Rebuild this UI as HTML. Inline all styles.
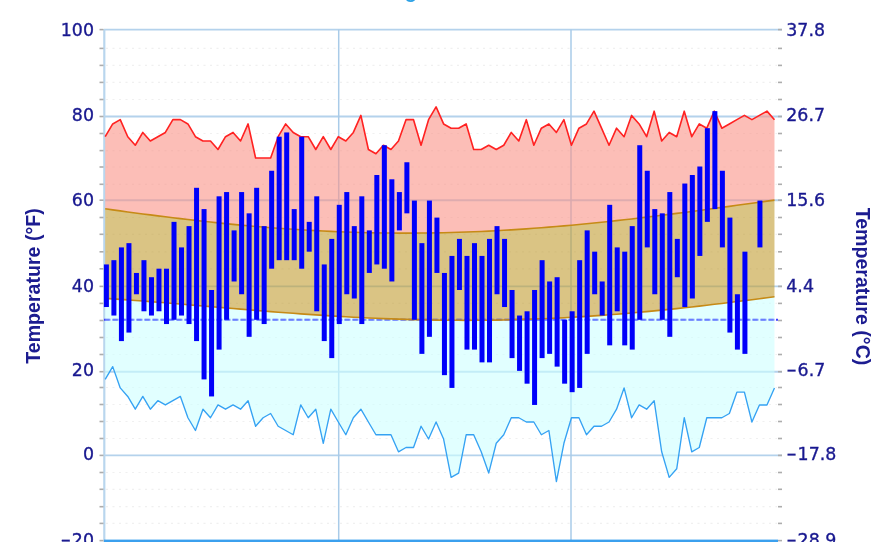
<!DOCTYPE html>
<html><head><meta charset="utf-8"><title>Temperature chart</title>
<style>
html,body{margin:0;padding:0;background:#fff;}
body{width:880px;height:542px;overflow:hidden;}
svg{display:block;}
.t{font-family:"DejaVu Sans","Liberation Sans",sans-serif;font-size:17.4px;fill:#1a1a90;stroke:#1a1a90;stroke-width:0.35px;}
.a{font-family:"Liberation Sans","DejaVu Sans",sans-serif;font-size:19.6px;font-weight:bold;fill:#1a1a90;}
</style></head><body>
<svg width="880" height="542" viewBox="0 0 880 542">
<defs><filter id="soft" filterUnits="userSpaceOnUse" x="-20" y="-20" width="920" height="582"><feGaussianBlur stdDeviation="0.55"/></filter></defs>
<g filter="url(#soft)">
<rect x="-20" y="-20" width="920" height="582" fill="#fff"/>
<text x="404.8" y="-1.9" font-family="'Liberation Sans', sans-serif" font-weight="bold" font-size="20" fill="#2ea2e6">g</text>
<line x1="106" x2="777" y1="48.4" y2="48.4" stroke="#f0f0f0" stroke-width="1.2" stroke-dasharray="2 4.5"/>
<line x1="106" x2="777" y1="65.4" y2="65.4" stroke="#f0f0f0" stroke-width="1.2" stroke-dasharray="2 4.5"/>
<line x1="106" x2="777" y1="82.4" y2="82.4" stroke="#f0f0f0" stroke-width="1.2" stroke-dasharray="2 4.5"/>
<line x1="106" x2="777" y1="99.5" y2="99.5" stroke="#f0f0f0" stroke-width="1.2" stroke-dasharray="2 4.5"/>
<line x1="106" x2="777" y1="133.5" y2="133.5" stroke="#f0f0f0" stroke-width="1.2" stroke-dasharray="2 4.5"/>
<line x1="106" x2="777" y1="150.6" y2="150.6" stroke="#f0f0f0" stroke-width="1.2" stroke-dasharray="2 4.5"/>
<line x1="106" x2="777" y1="167" y2="167" stroke="#f0f0f0" stroke-width="1.2" stroke-dasharray="2 4.5"/>
<line x1="106" x2="777" y1="184.3" y2="184.3" stroke="#f0f0f0" stroke-width="1.2" stroke-dasharray="2 4.5"/>
<line x1="106" x2="777" y1="217.5" y2="217.5" stroke="#f0f0f0" stroke-width="1.2" stroke-dasharray="2 4.5"/>
<line x1="106" x2="777" y1="234.3" y2="234.3" stroke="#f0f0f0" stroke-width="1.2" stroke-dasharray="2 4.5"/>
<line x1="106" x2="777" y1="251.8" y2="251.8" stroke="#f0f0f0" stroke-width="1.2" stroke-dasharray="2 4.5"/>
<line x1="106" x2="777" y1="268.8" y2="268.8" stroke="#f0f0f0" stroke-width="1.2" stroke-dasharray="2 4.5"/>
<line x1="106" x2="777" y1="303.4" y2="303.4" stroke="#f0f0f0" stroke-width="1.2" stroke-dasharray="2 4.5"/>
<line x1="106" x2="777" y1="320.5" y2="320.5" stroke="#f0f0f0" stroke-width="1.2" stroke-dasharray="2 4.5"/>
<line x1="106" x2="777" y1="337.5" y2="337.5" stroke="#f0f0f0" stroke-width="1.2" stroke-dasharray="2 4.5"/>
<line x1="106" x2="777" y1="354.5" y2="354.5" stroke="#f0f0f0" stroke-width="1.2" stroke-dasharray="2 4.5"/>
<line x1="106" x2="777" y1="387.5" y2="387.5" stroke="#f0f0f0" stroke-width="1.2" stroke-dasharray="2 4.5"/>
<line x1="106" x2="777" y1="404.5" y2="404.5" stroke="#f0f0f0" stroke-width="1.2" stroke-dasharray="2 4.5"/>
<line x1="106" x2="777" y1="421.5" y2="421.5" stroke="#f0f0f0" stroke-width="1.2" stroke-dasharray="2 4.5"/>
<line x1="106" x2="777" y1="438.5" y2="438.5" stroke="#f0f0f0" stroke-width="1.2" stroke-dasharray="2 4.5"/>
<line x1="106" x2="777" y1="472.5" y2="472.5" stroke="#f0f0f0" stroke-width="1.2" stroke-dasharray="2 4.5"/>
<line x1="106" x2="777" y1="489.3" y2="489.3" stroke="#f0f0f0" stroke-width="1.2" stroke-dasharray="2 4.5"/>
<line x1="106" x2="777" y1="506.7" y2="506.7" stroke="#f0f0f0" stroke-width="1.2" stroke-dasharray="2 4.5"/>
<line x1="106" x2="777" y1="523.4" y2="523.4" stroke="#f0f0f0" stroke-width="1.2" stroke-dasharray="2 4.5"/>
<line x1="104" x2="782" y1="29.6" y2="29.6" stroke="#b4d2ec" stroke-width="1.9"/>
<line x1="104" x2="782" y1="116.5" y2="116.5" stroke="#b4d2ec" stroke-width="1.9"/>
<line x1="104" x2="782" y1="200.2" y2="200.2" stroke="#b4d2ec" stroke-width="1.9"/>
<line x1="104" x2="782" y1="286.4" y2="286.4" stroke="#b4d2ec" stroke-width="1.9"/>
<line x1="104" x2="782" y1="371.7" y2="371.7" stroke="#b4d2ec" stroke-width="1.9"/>
<line x1="104" x2="782" y1="455.4" y2="455.4" stroke="#b4d2ec" stroke-width="1.9"/>
<line x1="338.7" x2="338.7" y1="29.6" y2="560" stroke="#a9cbe8" stroke-width="1.5"/>
<line x1="571" x2="571" y1="29.6" y2="560" stroke="#a9cbe8" stroke-width="1.5"/>
<line x1="104.3" x2="104.3" y1="29" y2="560" stroke="#b9d6ee" stroke-width="2.2"/>
<line x1="104" x2="778" y1="319.8" y2="319.8" stroke="#3c3cff" stroke-width="2" stroke-dasharray="5.5 2.5"/>
<polygon points="105.2,136.7 112.72,123.93 120.24,119.67 127.76,136.7 135.28,145.22 142.8,132.44 150.32,140.96 157.84,136.7 165.36,132.44 172.88,119.67 180.4,119.67 187.92,123.93 195.44,136.7 202.96,140.96 210.48,140.96 218,149.47 225.52,136.7 233.04,132.44 240.56,140.96 248.08,123.93 255.6,157.99 263.12,157.99 270.64,157.99 278.16,136.7 285.68,123.93 293.2,132.44 300.72,136.7 308.24,136.7 315.76,149.47 323.28,136.7 330.8,149.47 338.32,136.7 345.84,140.96 353.36,132.44 360.88,115.41 368.4,149.47 375.92,153.73 383.44,145.22 390.96,149.47 398.48,140.96 406,119.67 413.52,119.67 421.04,145.22 428.56,119.67 436.08,106.89 443.6,123.93 451.12,128.18 458.64,128.18 466.16,123.93 473.68,149.47 481.2,149.47 488.72,145.22 496.24,149.47 503.76,145.22 511.28,132.44 518.8,140.96 526.32,119.67 533.84,145.22 541.36,128.18 548.88,123.93 556.4,132.44 563.92,119.67 571.44,145.22 578.96,128.18 586.48,123.93 594,111.15 601.52,128.18 609.04,145.22 616.56,128.18 624.08,136.7 631.6,115.41 639.12,123.93 646.64,136.7 654.16,111.15 661.68,140.96 669.2,132.44 676.72,136.7 684.24,111.15 691.76,136.7 699.28,123.93 706.8,128.18 714.32,111.15 721.84,128.18 729.36,123.93 736.88,119.67 744.4,115.41 751.92,119.67 759.44,115.41 766.96,111.15 774.48,119.67 774.48,200.13 766.96,201.16 759.44,202.2 751.92,203.24 744.4,204.28 736.88,205.31 729.36,206.35 721.84,207.38 714.32,208.4 706.8,209.42 699.28,210.43 691.76,211.43 684.24,212.42 676.72,213.39 669.2,214.36 661.68,215.31 654.16,216.24 646.64,217.16 639.12,218.06 631.6,218.94 624.08,219.8 616.56,220.64 609.04,221.46 601.52,222.26 594,223.04 586.48,223.79 578.96,224.52 571.44,225.22 563.92,225.9 556.4,226.54 548.88,227.17 541.36,227.76 533.84,228.32 526.32,228.86 518.8,229.37 511.28,229.84 503.76,230.29 496.24,230.7 488.72,231.08 481.2,231.43 473.68,231.75 466.16,232.04 458.64,232.29 451.12,232.51 443.6,232.69 436.08,232.85 428.56,232.96 421.04,233.05 413.52,233.1 406,233.11 398.48,233.1 390.96,233.04 383.44,232.96 375.92,232.84 368.4,232.68 360.88,232.5 353.36,232.27 345.84,232.02 338.32,231.73 330.8,231.41 323.28,231.05 315.76,230.67 308.24,230.25 300.72,229.79 293.2,229.31 285.68,228.8 278.16,228.25 270.64,227.68 263.12,227.07 255.6,226.44 248.08,225.78 240.56,225.09 233.04,224.37 225.52,223.63 218,222.86 210.48,222.07 202.96,221.25 195.44,220.41 187.92,219.54 180.4,218.66 172.88,217.75 165.36,216.82 157.84,215.88 150.32,214.91 142.8,213.93 135.28,212.93 127.76,211.92 120.24,210.9 112.72,209.86 105.2,208.81" fill="rgb(250,147,135)" fill-opacity="0.6"/>
<polygon points="105.2,208.81 112.72,209.86 120.24,210.9 127.76,211.92 135.28,212.93 142.8,213.93 150.32,214.91 157.84,215.88 165.36,216.82 172.88,217.75 180.4,218.66 187.92,219.54 195.44,220.41 202.96,221.25 210.48,222.07 218,222.86 225.52,223.63 233.04,224.37 240.56,225.09 248.08,225.78 255.6,226.44 263.12,227.07 270.64,227.68 278.16,228.25 285.68,228.8 293.2,229.31 300.72,229.79 308.24,230.25 315.76,230.67 323.28,231.05 330.8,231.41 338.32,231.73 345.84,232.02 353.36,232.27 360.88,232.5 368.4,232.68 375.92,232.84 383.44,232.96 390.96,233.04 398.48,233.1 406,233.11 413.52,233.1 421.04,233.05 428.56,232.96 436.08,232.85 443.6,232.69 451.12,232.51 458.64,232.29 466.16,232.04 473.68,231.75 481.2,231.43 488.72,231.08 496.24,230.7 503.76,230.29 511.28,229.84 518.8,229.37 526.32,228.86 533.84,228.32 541.36,227.76 548.88,227.17 556.4,226.54 563.92,225.9 571.44,225.22 578.96,224.52 586.48,223.79 594,223.04 601.52,222.26 609.04,221.46 616.56,220.64 624.08,219.8 631.6,218.94 639.12,218.06 646.64,217.16 654.16,216.24 661.68,215.31 669.2,214.36 676.72,213.39 684.24,212.42 691.76,211.43 699.28,210.43 706.8,209.42 714.32,208.4 721.84,207.38 729.36,206.35 736.88,205.31 744.4,204.28 751.92,203.24 759.44,202.2 766.96,201.16 774.48,200.13 774.48,296.72 766.96,297.71 759.44,298.69 751.92,299.67 744.4,300.63 736.88,301.58 729.36,302.51 721.84,303.43 714.32,304.33 706.8,305.22 699.28,306.09 691.76,306.94 684.24,307.77 676.72,308.58 669.2,309.36 661.68,310.13 654.16,310.87 646.64,311.59 639.12,312.28 631.6,312.95 624.08,313.59 616.56,314.2 609.04,314.79 601.52,315.35 594,315.88 586.48,316.38 578.96,316.86 571.44,317.3 563.92,317.72 556.4,318.1 548.88,318.46 541.36,318.78 533.84,319.07 526.32,319.34 518.8,319.57 511.28,319.77 503.76,319.94 496.24,320.08 488.72,320.19 481.2,320.27 473.68,320.32 466.16,320.33 458.64,320.32 451.12,320.28 443.6,320.2 436.08,320.1 428.56,319.97 421.04,319.81 413.52,319.62 406,319.41 398.48,319.17 390.96,318.9 383.44,318.6 375.92,318.28 368.4,317.94 360.88,317.57 353.36,317.18 345.84,316.77 338.32,316.33 330.8,315.87 323.28,315.4 315.76,314.9 308.24,314.39 300.72,313.86 293.2,313.31 285.68,312.75 278.16,312.18 270.64,311.59 263.12,311 255.6,310.39 248.08,309.77 240.56,309.15 233.04,308.52 225.52,307.88 218,307.25 210.48,306.61 202.96,305.97 195.44,305.33 187.92,304.69 180.4,304.06 172.88,303.44 165.36,302.82 157.84,302.21 150.32,301.62 142.8,301.03 135.28,300.47 127.76,299.92 120.24,299.38 112.72,298.87 105.2,298.39" fill="rgb(194,156,50)" fill-opacity="0.6"/>
<polygon points="105.2,298.39 112.72,298.87 120.24,299.38 127.76,299.92 135.28,300.47 142.8,301.03 150.32,301.62 157.84,302.21 165.36,302.82 172.88,303.44 180.4,304.06 187.92,304.69 195.44,305.33 202.96,305.97 210.48,306.61 218,307.25 225.52,307.88 233.04,308.52 240.56,309.15 248.08,309.77 255.6,310.39 263.12,311 270.64,311.59 278.16,312.18 285.68,312.75 293.2,313.31 300.72,313.86 308.24,314.39 315.76,314.9 323.28,315.4 330.8,315.87 338.32,316.33 345.84,316.77 353.36,317.18 360.88,317.57 368.4,317.94 375.92,318.28 383.44,318.6 390.96,318.9 398.48,319.17 406,319.41 413.52,319.62 421.04,319.81 428.56,319.97 436.08,320.1 443.6,320.2 451.12,320.28 458.64,320.32 466.16,320.33 473.68,320.32 481.2,320.27 488.72,320.19 496.24,320.08 503.76,319.94 511.28,319.77 518.8,319.57 526.32,319.34 533.84,319.07 541.36,318.78 548.88,318.46 556.4,318.1 563.92,317.72 571.44,317.3 578.96,316.86 586.48,316.38 594,315.88 601.52,315.35 609.04,314.79 616.56,314.2 624.08,313.59 631.6,312.95 639.12,312.28 646.64,311.59 654.16,310.87 661.68,310.13 669.2,309.36 676.72,308.58 684.24,307.77 691.76,306.94 699.28,306.09 706.8,305.22 714.32,304.33 721.84,303.43 729.36,302.51 736.88,301.58 744.4,300.63 751.92,299.67 759.44,298.69 766.96,297.71 774.48,296.72 774.48,387.92 766.96,404.95 759.44,404.95 751.92,421.99 744.4,392.18 736.88,392.18 729.36,413.47 721.84,417.73 714.32,417.73 706.8,417.73 699.28,447.53 691.76,451.79 684.24,417.73 676.72,468.82 669.2,477.34 661.68,451.79 654.16,400.7 646.64,409.21 639.12,404.95 631.6,417.73 624.08,387.92 616.56,409.21 609.04,421.99 601.52,426.24 594,426.24 586.48,434.76 578.96,417.73 571.44,417.73 563.92,443.28 556.4,481.6 548.88,430.5 541.36,434.76 533.84,421.99 526.32,421.99 518.8,417.73 511.28,417.73 503.76,434.76 496.24,443.28 488.72,473.08 481.2,451.79 473.68,434.76 466.16,434.76 458.64,473.08 451.12,477.34 443.6,439.02 436.08,421.99 428.56,439.02 421.04,426.24 413.52,447.53 406,447.53 398.48,451.79 390.96,434.76 383.44,434.76 375.92,434.76 368.4,421.99 360.88,409.21 353.36,417.73 345.84,434.76 338.32,421.99 330.8,409.21 323.28,443.28 315.76,409.21 308.24,417.73 300.72,404.95 293.2,434.76 285.68,430.5 278.16,426.24 270.64,413.47 263.12,417.73 255.6,426.24 248.08,400.7 240.56,409.21 233.04,404.95 225.52,409.21 218,404.95 210.48,417.73 202.96,409.21 195.44,430.5 187.92,417.73 180.4,396.44 172.88,400.7 165.36,404.95 157.84,400.7 150.32,409.21 142.8,396.44 135.28,409.21 127.76,396.44 120.24,387.92 112.72,366.63 105.2,379.41" fill="rgb(205,255,255)" fill-opacity="0.6"/>
<line x1="105" x2="775" y1="319.8" y2="319.8" stroke="#4f5cff" stroke-opacity="0.6" stroke-width="2" stroke-dasharray="5.5 2.5"/>
<polyline points="105.2,208.81 112.72,209.86 120.24,210.9 127.76,211.92 135.28,212.93 142.8,213.93 150.32,214.91 157.84,215.88 165.36,216.82 172.88,217.75 180.4,218.66 187.92,219.54 195.44,220.41 202.96,221.25 210.48,222.07 218,222.86 225.52,223.63 233.04,224.37 240.56,225.09 248.08,225.78 255.6,226.44 263.12,227.07 270.64,227.68 278.16,228.25 285.68,228.8 293.2,229.31 300.72,229.79 308.24,230.25 315.76,230.67 323.28,231.05 330.8,231.41 338.32,231.73 345.84,232.02 353.36,232.27 360.88,232.5 368.4,232.68 375.92,232.84 383.44,232.96 390.96,233.04 398.48,233.1 406,233.11 413.52,233.1 421.04,233.05 428.56,232.96 436.08,232.85 443.6,232.69 451.12,232.51 458.64,232.29 466.16,232.04 473.68,231.75 481.2,231.43 488.72,231.08 496.24,230.7 503.76,230.29 511.28,229.84 518.8,229.37 526.32,228.86 533.84,228.32 541.36,227.76 548.88,227.17 556.4,226.54 563.92,225.9 571.44,225.22 578.96,224.52 586.48,223.79 594,223.04 601.52,222.26 609.04,221.46 616.56,220.64 624.08,219.8 631.6,218.94 639.12,218.06 646.64,217.16 654.16,216.24 661.68,215.31 669.2,214.36 676.72,213.39 684.24,212.42 691.76,211.43 699.28,210.43 706.8,209.42 714.32,208.4 721.84,207.38 729.36,206.35 736.88,205.31 744.4,204.28 751.92,203.24 759.44,202.2 766.96,201.16 774.48,200.13" fill="none" stroke="#c68a16" stroke-width="1.6"/>
<polyline points="105.2,298.39 112.72,298.87 120.24,299.38 127.76,299.92 135.28,300.47 142.8,301.03 150.32,301.62 157.84,302.21 165.36,302.82 172.88,303.44 180.4,304.06 187.92,304.69 195.44,305.33 202.96,305.97 210.48,306.61 218,307.25 225.52,307.88 233.04,308.52 240.56,309.15 248.08,309.77 255.6,310.39 263.12,311 270.64,311.59 278.16,312.18 285.68,312.75 293.2,313.31 300.72,313.86 308.24,314.39 315.76,314.9 323.28,315.4 330.8,315.87 338.32,316.33 345.84,316.77 353.36,317.18 360.88,317.57 368.4,317.94 375.92,318.28 383.44,318.6 390.96,318.9 398.48,319.17 406,319.41 413.52,319.62 421.04,319.81 428.56,319.97 436.08,320.1 443.6,320.2 451.12,320.28 458.64,320.32 466.16,320.33 473.68,320.32 481.2,320.27 488.72,320.19 496.24,320.08 503.76,319.94 511.28,319.77 518.8,319.57 526.32,319.34 533.84,319.07 541.36,318.78 548.88,318.46 556.4,318.1 563.92,317.72 571.44,317.3 578.96,316.86 586.48,316.38 594,315.88 601.52,315.35 609.04,314.79 616.56,314.2 624.08,313.59 631.6,312.95 639.12,312.28 646.64,311.59 654.16,310.87 661.68,310.13 669.2,309.36 676.72,308.58 684.24,307.77 691.76,306.94 699.28,306.09 706.8,305.22 714.32,304.33 721.84,303.43 729.36,302.51 736.88,301.58 744.4,300.63 751.92,299.67 759.44,298.69 766.96,297.71 774.48,296.72" fill="none" stroke="#c68a16" stroke-width="1.6"/>
<polyline points="105.2,136.7 112.72,123.93 120.24,119.67 127.76,136.7 135.28,145.22 142.8,132.44 150.32,140.96 157.84,136.7 165.36,132.44 172.88,119.67 180.4,119.67 187.92,123.93 195.44,136.7 202.96,140.96 210.48,140.96 218,149.47 225.52,136.7 233.04,132.44 240.56,140.96 248.08,123.93 255.6,157.99 263.12,157.99 270.64,157.99 278.16,136.7 285.68,123.93 293.2,132.44 300.72,136.7 308.24,136.7 315.76,149.47 323.28,136.7 330.8,149.47 338.32,136.7 345.84,140.96 353.36,132.44 360.88,115.41 368.4,149.47 375.92,153.73 383.44,145.22 390.96,149.47 398.48,140.96 406,119.67 413.52,119.67 421.04,145.22 428.56,119.67 436.08,106.89 443.6,123.93 451.12,128.18 458.64,128.18 466.16,123.93 473.68,149.47 481.2,149.47 488.72,145.22 496.24,149.47 503.76,145.22 511.28,132.44 518.8,140.96 526.32,119.67 533.84,145.22 541.36,128.18 548.88,123.93 556.4,132.44 563.92,119.67 571.44,145.22 578.96,128.18 586.48,123.93 594,111.15 601.52,128.18 609.04,145.22 616.56,128.18 624.08,136.7 631.6,115.41 639.12,123.93 646.64,136.7 654.16,111.15 661.68,140.96 669.2,132.44 676.72,136.7 684.24,111.15 691.76,136.7 699.28,123.93 706.8,128.18 714.32,111.15 721.84,128.18 729.36,123.93 736.88,119.67 744.4,115.41 751.92,119.67 759.44,115.41 766.96,111.15 774.48,119.67" fill="none" stroke="#ff2020" stroke-width="1.6" stroke-linejoin="round"/>
<polyline points="105.2,379.41 112.72,366.63 120.24,387.92 127.76,396.44 135.28,409.21 142.8,396.44 150.32,409.21 157.84,400.7 165.36,404.95 172.88,400.7 180.4,396.44 187.92,417.73 195.44,430.5 202.96,409.21 210.48,417.73 218,404.95 225.52,409.21 233.04,404.95 240.56,409.21 248.08,400.7 255.6,426.24 263.12,417.73 270.64,413.47 278.16,426.24 285.68,430.5 293.2,434.76 300.72,404.95 308.24,417.73 315.76,409.21 323.28,443.28 330.8,409.21 338.32,421.99 345.84,434.76 353.36,417.73 360.88,409.21 368.4,421.99 375.92,434.76 383.44,434.76 390.96,434.76 398.48,451.79 406,447.53 413.52,447.53 421.04,426.24 428.56,439.02 436.08,421.99 443.6,439.02 451.12,477.34 458.64,473.08 466.16,434.76 473.68,434.76 481.2,451.79 488.72,473.08 496.24,443.28 503.76,434.76 511.28,417.73 518.8,417.73 526.32,421.99 533.84,421.99 541.36,434.76 548.88,430.5 556.4,481.6 563.92,443.28 571.44,417.73 578.96,417.73 586.48,434.76 594,426.24 601.52,426.24 609.04,421.99 616.56,409.21 624.08,387.92 631.6,417.73 639.12,404.95 646.64,409.21 654.16,400.7 661.68,451.79 669.2,477.34 676.72,468.82 684.24,417.73 691.76,451.79 699.28,447.53 706.8,417.73 714.32,417.73 721.84,417.73 729.36,413.47 736.88,392.18 744.4,392.18 751.92,421.99 759.44,404.95 766.96,404.95 774.48,387.92" fill="none" stroke="#35a2f3" stroke-width="1.35" stroke-linejoin="round"/>
<rect x="103.9" y="264.44" width="5" height="42.58" fill="#0000fa"/>
<rect x="111.41" y="260.18" width="5" height="55.35" fill="#0000fa"/>
<rect x="118.92" y="247.41" width="5" height="93.68" fill="#0000fa"/>
<rect x="126.44" y="243.15" width="5" height="89.42" fill="#0000fa"/>
<rect x="133.95" y="272.96" width="5" height="21.29" fill="#0000fa"/>
<rect x="141.46" y="260.18" width="5" height="51.1" fill="#0000fa"/>
<rect x="148.97" y="277.21" width="5" height="38.32" fill="#0000fa"/>
<rect x="156.48" y="268.7" width="5" height="42.58" fill="#0000fa"/>
<rect x="164" y="268.7" width="5" height="55.35" fill="#0000fa"/>
<rect x="171.51" y="221.86" width="5" height="97.93" fill="#0000fa"/>
<rect x="179.02" y="247.41" width="5" height="68.13" fill="#0000fa"/>
<rect x="186.53" y="226.12" width="5" height="97.93" fill="#0000fa"/>
<rect x="194.04" y="187.8" width="5" height="153.29" fill="#0000fa"/>
<rect x="201.56" y="209.09" width="5" height="170.32" fill="#0000fa"/>
<rect x="209.07" y="289.99" width="5" height="106.45" fill="#0000fa"/>
<rect x="216.58" y="196.31" width="5" height="153.29" fill="#0000fa"/>
<rect x="224.09" y="192.05" width="5" height="127.74" fill="#0000fa"/>
<rect x="231.6" y="230.38" width="5" height="51.1" fill="#0000fa"/>
<rect x="239.12" y="192.05" width="5" height="102.19" fill="#0000fa"/>
<rect x="246.63" y="213.34" width="5" height="123.48" fill="#0000fa"/>
<rect x="254.14" y="187.8" width="5" height="132" fill="#0000fa"/>
<rect x="261.65" y="226.12" width="5" height="97.93" fill="#0000fa"/>
<rect x="269.16" y="170.76" width="5" height="97.93" fill="#0000fa"/>
<rect x="276.68" y="136.7" width="5" height="123.48" fill="#0000fa"/>
<rect x="284.19" y="132.44" width="5" height="127.74" fill="#0000fa"/>
<rect x="291.7" y="209.09" width="5" height="51.1" fill="#0000fa"/>
<rect x="299.21" y="136.7" width="5" height="132" fill="#0000fa"/>
<rect x="306.72" y="221.86" width="5" height="29.81" fill="#0000fa"/>
<rect x="314.24" y="196.31" width="5" height="114.97" fill="#0000fa"/>
<rect x="321.75" y="264.44" width="5" height="76.64" fill="#0000fa"/>
<rect x="329.26" y="238.89" width="5" height="119.22" fill="#0000fa"/>
<rect x="336.77" y="204.83" width="5" height="119.22" fill="#0000fa"/>
<rect x="344.28" y="192.05" width="5" height="102.19" fill="#0000fa"/>
<rect x="351.8" y="226.12" width="5" height="72.39" fill="#0000fa"/>
<rect x="359.31" y="196.31" width="5" height="127.74" fill="#0000fa"/>
<rect x="366.82" y="230.38" width="5" height="42.58" fill="#0000fa"/>
<rect x="374.33" y="175.02" width="5" height="89.42" fill="#0000fa"/>
<rect x="381.84" y="145.22" width="5" height="123.48" fill="#0000fa"/>
<rect x="389.36" y="179.28" width="5" height="102.19" fill="#0000fa"/>
<rect x="396.87" y="192.05" width="5" height="38.32" fill="#0000fa"/>
<rect x="404.38" y="162.25" width="5" height="51.1" fill="#0000fa"/>
<rect x="411.89" y="200.57" width="5" height="119.22" fill="#0000fa"/>
<rect x="419.4" y="243.15" width="5" height="110.71" fill="#0000fa"/>
<rect x="426.92" y="200.57" width="5" height="136.26" fill="#0000fa"/>
<rect x="434.43" y="217.6" width="5" height="55.35" fill="#0000fa"/>
<rect x="441.94" y="272.96" width="5" height="102.19" fill="#0000fa"/>
<rect x="449.45" y="255.92" width="5" height="132" fill="#0000fa"/>
<rect x="456.96" y="238.89" width="5" height="51.1" fill="#0000fa"/>
<rect x="464.48" y="255.92" width="5" height="93.68" fill="#0000fa"/>
<rect x="471.99" y="243.15" width="5" height="106.45" fill="#0000fa"/>
<rect x="479.5" y="255.92" width="5" height="106.45" fill="#0000fa"/>
<rect x="487.01" y="238.89" width="5" height="123.48" fill="#0000fa"/>
<rect x="494.52" y="226.12" width="5" height="68.13" fill="#0000fa"/>
<rect x="502.04" y="238.89" width="5" height="68.13" fill="#0000fa"/>
<rect x="509.55" y="289.99" width="5" height="68.13" fill="#0000fa"/>
<rect x="517.06" y="315.54" width="5" height="55.35" fill="#0000fa"/>
<rect x="524.57" y="311.28" width="5" height="72.39" fill="#0000fa"/>
<rect x="532.08" y="289.99" width="5" height="114.97" fill="#0000fa"/>
<rect x="539.6" y="260.18" width="5" height="97.93" fill="#0000fa"/>
<rect x="547.11" y="281.47" width="5" height="72.39" fill="#0000fa"/>
<rect x="554.62" y="277.21" width="5" height="89.42" fill="#0000fa"/>
<rect x="562.13" y="319.79" width="5" height="63.87" fill="#0000fa"/>
<rect x="569.64" y="311.28" width="5" height="80.9" fill="#0000fa"/>
<rect x="577.16" y="260.18" width="5" height="127.74" fill="#0000fa"/>
<rect x="584.67" y="230.38" width="5" height="123.48" fill="#0000fa"/>
<rect x="592.18" y="251.67" width="5" height="42.58" fill="#0000fa"/>
<rect x="599.69" y="281.47" width="5" height="34.06" fill="#0000fa"/>
<rect x="607.2" y="204.83" width="5" height="140.51" fill="#0000fa"/>
<rect x="614.72" y="247.41" width="5" height="63.87" fill="#0000fa"/>
<rect x="622.23" y="251.67" width="5" height="93.68" fill="#0000fa"/>
<rect x="629.74" y="226.12" width="5" height="123.48" fill="#0000fa"/>
<rect x="637.25" y="145.22" width="5" height="174.58" fill="#0000fa"/>
<rect x="644.76" y="170.76" width="5" height="76.64" fill="#0000fa"/>
<rect x="652.28" y="209.09" width="5" height="85.16" fill="#0000fa"/>
<rect x="659.79" y="213.34" width="5" height="106.45" fill="#0000fa"/>
<rect x="667.3" y="192.05" width="5" height="144.77" fill="#0000fa"/>
<rect x="674.81" y="238.89" width="5" height="38.32" fill="#0000fa"/>
<rect x="682.32" y="183.54" width="5" height="123.48" fill="#0000fa"/>
<rect x="689.84" y="175.02" width="5" height="123.48" fill="#0000fa"/>
<rect x="697.35" y="166.51" width="5" height="89.42" fill="#0000fa"/>
<rect x="704.86" y="128.18" width="5" height="93.68" fill="#0000fa"/>
<rect x="712.37" y="111.15" width="5" height="97.93" fill="#0000fa"/>
<rect x="719.88" y="170.76" width="5" height="76.64" fill="#0000fa"/>
<rect x="727.4" y="217.6" width="5" height="114.97" fill="#0000fa"/>
<rect x="734.91" y="294.25" width="5" height="55.35" fill="#0000fa"/>
<rect x="742.42" y="251.67" width="5" height="102.19" fill="#0000fa"/>
<rect x="757.44" y="200.57" width="5" height="46.84" fill="#0000fa"/>
<rect x="104" y="539.6" width="674" height="20" fill="#3aa0ee"/>
<rect x="99.5" y="47.6" width="4" height="1.6" fill="#adadad"/>
<rect x="778" y="47.6" width="4" height="1.6" fill="#adadad"/>
<rect x="99.5" y="64.6" width="4" height="1.6" fill="#adadad"/>
<rect x="778" y="64.6" width="4" height="1.6" fill="#adadad"/>
<rect x="99.5" y="81.6" width="4" height="1.6" fill="#adadad"/>
<rect x="778" y="81.6" width="4" height="1.6" fill="#adadad"/>
<rect x="99.5" y="98.7" width="4" height="1.6" fill="#adadad"/>
<rect x="778" y="98.7" width="4" height="1.6" fill="#adadad"/>
<rect x="99.5" y="132.7" width="4" height="1.6" fill="#adadad"/>
<rect x="778" y="132.7" width="4" height="1.6" fill="#adadad"/>
<rect x="99.5" y="149.8" width="4" height="1.6" fill="#adadad"/>
<rect x="778" y="149.8" width="4" height="1.6" fill="#adadad"/>
<rect x="99.5" y="166.2" width="4" height="1.6" fill="#adadad"/>
<rect x="778" y="166.2" width="4" height="1.6" fill="#adadad"/>
<rect x="99.5" y="183.5" width="4" height="1.6" fill="#adadad"/>
<rect x="778" y="183.5" width="4" height="1.6" fill="#adadad"/>
<rect x="99.5" y="216.7" width="4" height="1.6" fill="#adadad"/>
<rect x="778" y="216.7" width="4" height="1.6" fill="#adadad"/>
<rect x="99.5" y="233.5" width="4" height="1.6" fill="#adadad"/>
<rect x="778" y="233.5" width="4" height="1.6" fill="#adadad"/>
<rect x="99.5" y="251" width="4" height="1.6" fill="#adadad"/>
<rect x="778" y="251" width="4" height="1.6" fill="#adadad"/>
<rect x="99.5" y="268" width="4" height="1.6" fill="#adadad"/>
<rect x="778" y="268" width="4" height="1.6" fill="#adadad"/>
<rect x="99.5" y="302.6" width="4" height="1.6" fill="#adadad"/>
<rect x="778" y="302.6" width="4" height="1.6" fill="#adadad"/>
<rect x="99.5" y="319.7" width="4" height="1.6" fill="#adadad"/>
<rect x="778" y="319.7" width="4" height="1.6" fill="#adadad"/>
<rect x="99.5" y="336.7" width="4" height="1.6" fill="#adadad"/>
<rect x="778" y="336.7" width="4" height="1.6" fill="#adadad"/>
<rect x="99.5" y="353.7" width="4" height="1.6" fill="#adadad"/>
<rect x="778" y="353.7" width="4" height="1.6" fill="#adadad"/>
<rect x="99.5" y="386.7" width="4" height="1.6" fill="#adadad"/>
<rect x="778" y="386.7" width="4" height="1.6" fill="#adadad"/>
<rect x="99.5" y="403.7" width="4" height="1.6" fill="#adadad"/>
<rect x="778" y="403.7" width="4" height="1.6" fill="#adadad"/>
<rect x="99.5" y="420.7" width="4" height="1.6" fill="#adadad"/>
<rect x="778" y="420.7" width="4" height="1.6" fill="#adadad"/>
<rect x="99.5" y="437.7" width="4" height="1.6" fill="#adadad"/>
<rect x="778" y="437.7" width="4" height="1.6" fill="#adadad"/>
<rect x="99.5" y="471.7" width="4" height="1.6" fill="#adadad"/>
<rect x="778" y="471.7" width="4" height="1.6" fill="#adadad"/>
<rect x="99.5" y="488.5" width="4" height="1.6" fill="#adadad"/>
<rect x="778" y="488.5" width="4" height="1.6" fill="#adadad"/>
<rect x="99.5" y="505.9" width="4" height="1.6" fill="#adadad"/>
<rect x="778" y="505.9" width="4" height="1.6" fill="#adadad"/>
<rect x="99.5" y="522.6" width="4" height="1.6" fill="#adadad"/>
<rect x="778" y="522.6" width="4" height="1.6" fill="#adadad"/>
<rect x="99.5" y="28.8" width="4" height="1.6" fill="#adadad"/>
<rect x="778" y="28.8" width="4" height="1.6" fill="#adadad"/>
<rect x="99.5" y="115.7" width="4" height="1.6" fill="#adadad"/>
<rect x="778" y="115.7" width="4" height="1.6" fill="#adadad"/>
<rect x="99.5" y="199.4" width="4" height="1.6" fill="#adadad"/>
<rect x="778" y="199.4" width="4" height="1.6" fill="#adadad"/>
<rect x="99.5" y="285.6" width="4" height="1.6" fill="#adadad"/>
<rect x="778" y="285.6" width="4" height="1.6" fill="#adadad"/>
<rect x="99.5" y="370.9" width="4" height="1.6" fill="#adadad"/>
<rect x="778" y="370.9" width="4" height="1.6" fill="#adadad"/>
<rect x="99.5" y="454.6" width="4" height="1.6" fill="#adadad"/>
<rect x="778" y="454.6" width="4" height="1.6" fill="#adadad"/>
<rect x="99.5" y="539.8" width="4" height="1.6" fill="#adadad"/>
<rect x="778" y="539.8" width="4" height="1.6" fill="#adadad"/>
<text x="94" y="36.35" text-anchor="end" class="t">100</text>
<text x="786.3" y="36.35" class="t">37.8</text>
<text x="94" y="121.4" text-anchor="end" class="t">80</text>
<text x="786.3" y="121.4" class="t">26.7</text>
<text x="94" y="206" text-anchor="end" class="t">60</text>
<text x="786.3" y="206" class="t">15.6</text>
<text x="94" y="291.7" text-anchor="end" class="t">40</text>
<text x="786.3" y="291.7" class="t">4.4</text>
<text x="94" y="376.4" text-anchor="end" class="t">20</text>
<text x="786.3" y="376.4" class="t"><tspan textLength="10.5" lengthAdjust="spacingAndGlyphs">−</tspan><tspan dx="0.8">6.7</tspan></text>
<text x="94" y="460.1" text-anchor="end" class="t">0</text>
<text x="786.3" y="460.1" class="t"><tspan textLength="10.5" lengthAdjust="spacingAndGlyphs">−</tspan><tspan dx="0.8">17.8</tspan></text>
<text x="94" y="545.9" text-anchor="end" class="t"><tspan textLength="10.5" lengthAdjust="spacingAndGlyphs">−</tspan><tspan dx="0.8">20</tspan></text>
<text x="786.3" y="545.9" class="t"><tspan textLength="10.5" lengthAdjust="spacingAndGlyphs">−</tspan><tspan dx="0.8">28.9</tspan></text>
<text transform="translate(40,286) rotate(-90)" text-anchor="middle" class="a">Temperature (°F)</text>
<text transform="translate(855.5,286.5) rotate(90)" text-anchor="middle" class="a">Temperature (°C)</text>
</g>
</svg>
</body></html>
